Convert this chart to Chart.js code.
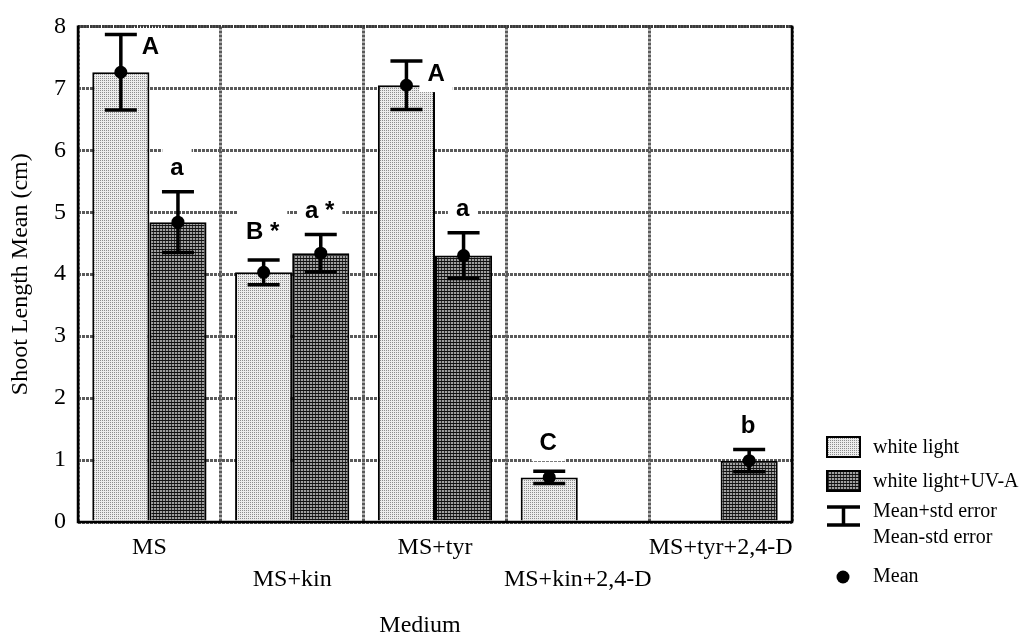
<!DOCTYPE html>
<html><head><meta charset="utf-8">
<script src="https://cdn.jsdelivr.net/npm/chart.js@4.4.1/dist/chart.umd.min.js"></script>
<style>html,body{margin:0;padding:0;background:#fff}canvas{display:block}</style>
</head><body>
<canvas id="c" width="1026" height="635"></canvas>
<script>
const categories = ['MS', 'MS+kin', 'MS+tyr', 'MS+kin+2,4-D', 'MS+tyr+2,4-D'];
const whiteMean = [7.26, 4.03, 7.05, 0.72, null];
const whiteSE = [0.61, 0.20, 0.39, 0.10, null];
const uvMean = [4.84, 4.34, 4.30, null, 0.99];
const uvSE = [0.49, 0.30, 0.37, null, 0.18];
const whiteLetters = ['A', 'B *', 'A', 'C', null];
const uvLetters = ['a', 'a *', 'a', null, 'b'];
const seriesNames = ['white light', 'white light+UV-A'];
const xTitle = 'Medium';
const yTitle = 'Shoot Length Mean (cm)';
const legendErr = ['Mean+std error', 'Mean-std error'];
const legendMean = 'Mean';
const yMin = 0, yMax = 8, yStep = 1;

const SERIF = "'Liberation Serif', 'Times New Roman', serif";
const SANS = "'Liberation Sans', Arial, sans-serif";

const canvas = document.getElementById('c');
const ctx0 = canvas.getContext('2d');
function makePattern(size, draw) {
  const t = document.createElement('canvas');
  t.width = size; t.height = size;
  draw(t.getContext('2d'));
  return ctx0.createPattern(t, 'repeat');
}
const lightPat = makePattern(2, c => {
  c.fillStyle = '#ececec'; c.fillRect(0, 0, 2, 2);
  c.fillStyle = '#8c8c8c'; c.fillRect(0, 0, 1, 1);
});
const darkPat = makePattern(3, c => {
  c.fillStyle = '#a0a0a0'; c.fillRect(0, 0, 3, 3);
  c.fillStyle = '#303030'; c.fillRect(0, 0, 1, 3);
  c.fillStyle = '#111'; c.fillRect(0, 0, 3, 1);
});

const means = [whiteMean, uvMean];
const ses = [whiteSE, uvSE];
const letters = [whiteLetters, uvLetters];

const overlay = {
  id: 'overlay',
  afterDatasetsDraw(chart) {
    const { ctx, chartArea: a, scales: { y } } = chart;
    ctx.save();

    // significance letters (white boxes mask the grid)
    ctx.font = 'bold 24px ' + SANS;
    ctx.textBaseline = 'alphabetic';
    for (let d = 0; d < 2; d++) {
      const meta = chart.getDatasetMeta(d);
      means[d].forEach((m, j) => {
        const lab = letters[d][j];
        if (m == null || lab == null) return;
        const bx = meta.data[j].x;
        const upper = m + ses[d][j];
        const yTop = y.getPixelForValue(upper);
        const w = ctx.measureText(lab).width;
        let left, base;
        if (upper > 7.3) {
          left = bx + 21; base = yTop + 20;
        } else {
          const isUpper = lab[0] === lab[0].toUpperCase();
          left = bx - w / 2 - 1; base = yTop - (isUpper ? 21 : 16.5);
        }
        ctx.fillStyle = '#fff';
        ctx.fillRect(left - 8, base - 28, w + 16, 39);
        ctx.fillStyle = '#000';
        ctx.textAlign = 'left';
        ctx.fillText(lab, left, base);
      });
    }

    // plot frame
    ctx.setLineDash([2, 1]);
    ctx.strokeStyle = '#3a3a3a'; ctx.lineWidth = 3;
    ctx.beginPath(); ctx.moveTo(a.left, a.top); ctx.lineTo(a.right, a.top); ctx.stroke();
    ctx.setLineDash([]);
    ctx.strokeStyle = '#000'; ctx.lineWidth = 2.5;
    ctx.beginPath();
    ctx.moveTo(a.left, a.top - 1); ctx.lineTo(a.left, a.bottom); ctx.lineTo(a.right, a.bottom); ctx.lineTo(a.right, a.top - 1);
    ctx.stroke();

    // error bars + mean dots
    ctx.strokeStyle = '#000'; ctx.fillStyle = '#000';
    ctx.lineWidth = 3.5; ctx.lineCap = 'butt';
    for (let d = 0; d < 2; d++) {
      const meta = chart.getDatasetMeta(d);
      means[d].forEach((m, j) => {
        if (m == null) return;
        const bx = meta.data[j].x;
        const yt = y.getPixelForValue(m + ses[d][j]);
        const yb = y.getPixelForValue(m - ses[d][j]);
        const ym = y.getPixelForValue(m);
        ctx.beginPath();
        ctx.moveTo(bx, yt); ctx.lineTo(bx, yb);
        ctx.moveTo(bx - 16, yt); ctx.lineTo(bx + 16, yt);
        ctx.moveTo(bx - 16, yb); ctx.lineTo(bx + 16, yb);
        ctx.stroke();
        ctx.beginPath(); ctx.arc(bx, ym, 6.5, 0, Math.PI * 2); ctx.fill();
      });
    }
    ctx.restore();
  },
  afterDraw(chart) {
    const { ctx } = chart;
    ctx.save();
    // x axis title
    ctx.font = '24px ' + SERIF;
    ctx.fillStyle = '#000';
    ctx.textAlign = 'center'; ctx.textBaseline = 'alphabetic';
    ctx.fillText(xTitle, 420, 632);

    // legend
    const lx = 827, lw = 33, tx = 873;
    ctx.font = '20px ' + SERIF;
    ctx.textAlign = 'left'; ctx.textBaseline = 'middle';
    const pats = [lightPat, darkPat];
    const boxY = [437, 471];
    for (let i = 0; i < 2; i++) {
      ctx.fillStyle = pats[i];
      ctx.fillRect(lx, boxY[i], lw, 20);
      ctx.strokeStyle = '#000'; ctx.lineWidth = 2;
      ctx.strokeRect(lx, boxY[i], lw, 20);
      ctx.fillStyle = '#000';
      ctx.fillText(seriesNames[i], tx, boxY[i] + 11);
    }
    // error bar icon
    ctx.strokeStyle = '#000'; ctx.lineWidth = 3.5;
    ctx.beginPath();
    ctx.moveTo(lx, 507); ctx.lineTo(lx + lw, 507);
    ctx.moveTo(lx + lw / 2, 507); ctx.lineTo(lx + lw / 2, 525);
    ctx.moveTo(lx, 525); ctx.lineTo(lx + lw, 525);
    ctx.stroke();
    ctx.fillText(legendErr[0], tx, 512);
    ctx.fillText(legendErr[1], tx, 538);
    // mean dot
    ctx.beginPath(); ctx.arc(lx + 16, 577, 6.5, 0, Math.PI * 2); ctx.fill();
    ctx.fillText(legendMean, tx, 577);
    ctx.restore();
  }
};

new Chart(canvas, {
  type: 'bar',
  data: {
    labels: categories,
    datasets: [
      { label: seriesNames[0], data: whiteMean, backgroundColor: lightPat, borderColor: '#000', borderWidth: 2 },
      { label: seriesNames[1], data: uvMean, backgroundColor: darkPat, borderColor: '#000', borderWidth: 2 }
    ]
  },
  options: {
    responsive: false,
    animation: false,
    devicePixelRatio: 1,
    layout: { padding: { top: 23, right: 234, left: 0, bottom: 0 } },
    datasets: { bar: { categoryPercentage: 0.8, barPercentage: 1.0 } },
    plugins: { legend: { display: false }, tooltip: { enabled: false } },
    scales: {
      x: {
        grid: { color: '#5a5a5a', lineWidth: 3, drawTicks: false, offset: true },
        border: { display: false, dash: [3, 1] },
        ticks: {
          autoSkip: false, maxRotation: 0, minRotation: 0, padding: 10, color: '#000',
          font: { family: SERIF, size: 24, lineHeight: 1.3333 },
          callback: function (v, i) { const s = this.getLabelForValue(v); return i % 2 ? ['', s] : s; }
        },
        afterFit: s => { s.height = 113; }
      },
      y: {
        min: yMin, max: yMax,
        grid: { color: '#5a5a5a', lineWidth: 3, drawTicks: false },
        border: { display: false, dash: [3, 1] },
        ticks: { stepSize: yStep, padding: 12, color: '#000', font: { family: SERIF, size: 24 } },
        title: { display: true, text: yTitle, color: '#000', padding: 0, font: { family: SERIF, size: 24, lineHeight: 1.75 } },
        afterFit: s => { s.width = 78; }
      }
    }
  },
  plugins: [overlay]
});
</script>
</body></html>
